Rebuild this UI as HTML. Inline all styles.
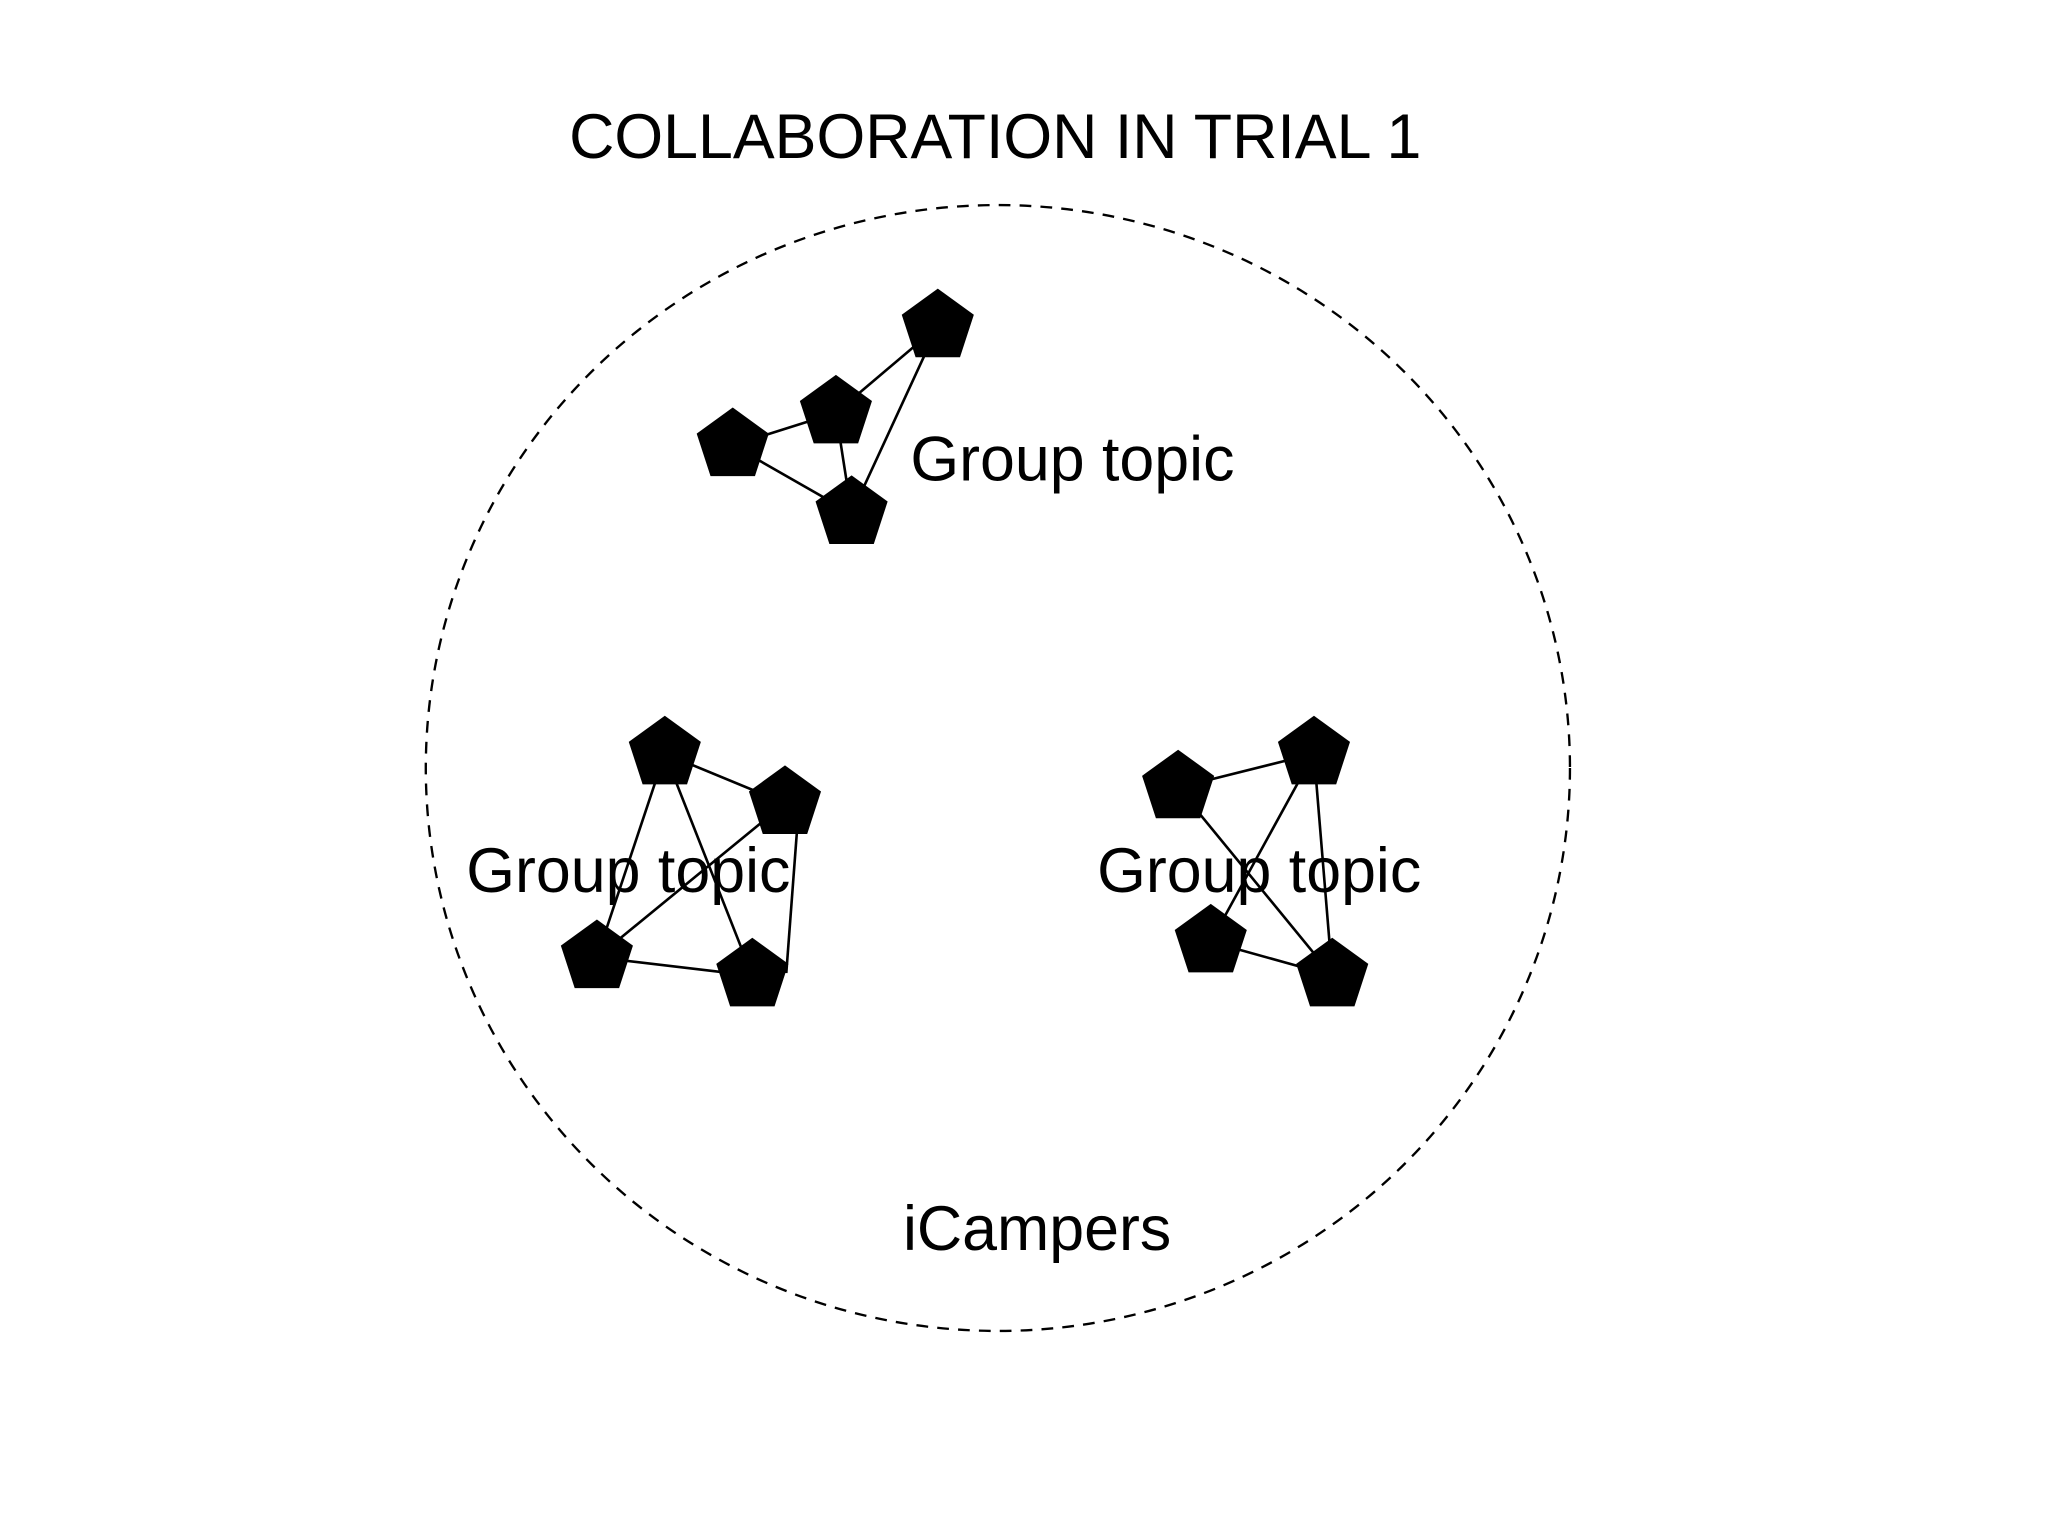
<!DOCTYPE html>
<html><head><style>html,body{margin:0;padding:0;background:#fff}svg{display:block}</style></head>
<body>
<svg width="2048" height="1536" viewBox="0 0 1568 1176" xmlns="http://www.w3.org/2000/svg">
<defs>
<polygon id="p" points="0,-29 27.6,-9 17,23.5 -17,23.5 -27.6,-9" fill="#000"/>
</defs>
<ellipse cx="764" cy="588" rx="438" ry="431" fill="none" stroke="#000" stroke-width="1.8" stroke-dasharray="9,7"/>
<g stroke="#000" stroke-width="2" fill="none">
<line x1="718" y1="250" x2="640" y2="316"/>
<line x1="718" y1="250" x2="652" y2="393"/>
<line x1="640" y1="316" x2="561" y2="341"/>
<line x1="640" y1="316" x2="652" y2="393"/>
<line x1="561" y1="341" x2="652" y2="393"/>
<line x1="509" y1="577" x2="601" y2="615"/>
<line x1="509" y1="577" x2="457" y2="733"/>
<line x1="509" y1="577" x2="576" y2="747"/>
<line x1="601" y1="615" x2="457" y2="733"/>
<line x1="612" y1="612" x2="602" y2="745"/>
<line x1="457" y1="733" x2="576" y2="747"/>
<line x1="902" y1="603" x2="1006" y2="577"/>
<line x1="902" y1="603" x2="1020" y2="747"/>
<line x1="1006" y1="577" x2="927" y2="721"/>
<line x1="1006" y1="577" x2="1020" y2="747"/>
<line x1="927" y1="721" x2="1020" y2="747"/>
</g>
<use href="#p" x="718" y="250"/><use href="#p" x="640" y="316"/><use href="#p" x="561" y="341"/><use href="#p" x="652" y="393"/>
<use href="#p" x="509" y="577"/><use href="#p" x="601" y="615"/><use href="#p" x="457" y="733"/><use href="#p" x="576" y="747"/>
<use href="#p" x="902" y="603"/><use href="#p" x="1006" y="577"/><use href="#p" x="927" y="721"/><use href="#p" x="1020" y="747"/>
<g font-family="Liberation Sans, sans-serif" font-size="48" fill="#000">
<text x="762" y="121" text-anchor="middle">COLLABORATION IN TRIAL 1</text>
<text x="697" y="368">Group topic</text>
<text x="357" y="683">Group topic</text>
<text x="840" y="683">Group topic</text>
<text x="794" y="957" text-anchor="middle">iCampers</text>
</g>
</svg>
</body></html>
